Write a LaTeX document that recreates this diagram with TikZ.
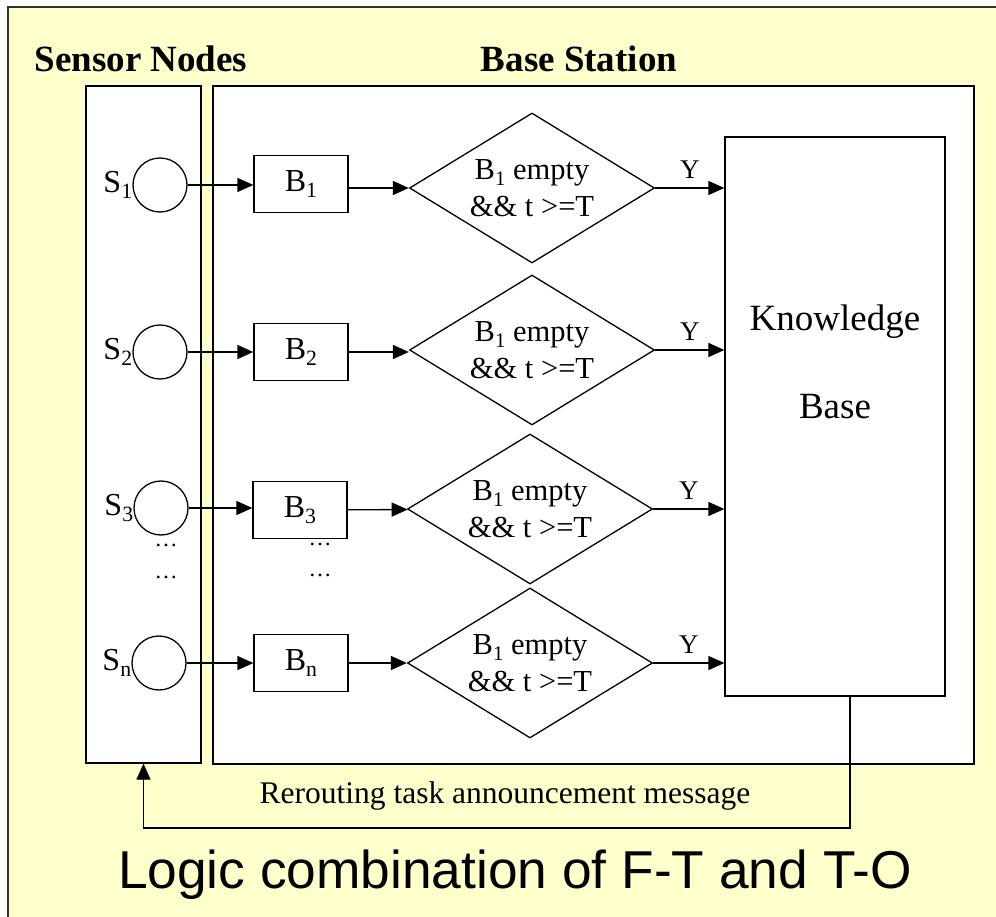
\documentclass[tikz,border=0pt]{standalone}
\usepackage{fontspec}
\setmainfont{Liberation Serif}
\newfontfamily\arialfont{Liberation Sans}
\usepackage{tikz}
\usetikzlibrary{positioning,arrows.meta,shapes.geometric,calc}
\definecolor{paleyellow}{RGB}{255,255,204}
\definecolor{framegray}{RGB}{50,50,50}
\newcommand{\lowidx}[1]{\raisebox{-0.2em}{\scalebox{0.68}{#1}}}
\tikzset{
  panel/.style={draw=black, line width=1.3pt, fill=white, inner sep=0pt},
  sensor/.style={circle, draw=black, line width=1.3pt, fill=white, minimum size=54pt, inner sep=0pt},
  slabel/.style={inner sep=0pt, font=\fontsize{32}{36}\selectfont},
  buffer/.style={draw=black, line width=1.3pt, fill=white, minimum width=94pt, minimum height=57pt, inner sep=0pt, font=\fontsize{32}{36}\selectfont},
  test/.style={diamond, draw=black, line width=1.3pt, fill=white, minimum width=245pt, minimum height=150pt, inner sep=0pt, aspect=1.63, align=center, font=\fontsize{30.5}{37}\selectfont},
  kbox/.style={draw=black, line width=1.3pt, fill=white, minimum width=220pt, minimum height=559pt, inner sep=0pt},
  title/.style={anchor=base, inner sep=0pt, font=\fontsize{37}{44}\selectfont\bfseries},
  dotlabel/.style={inner sep=0pt, font=\fontsize{23}{26}\selectfont},
  ylabel/.style={above, inner sep=5pt, yshift=4pt, font=\fontsize{27}{30}\selectfont},
  arr/.style={-{Triangle[length=16pt,width=14pt]}, line width=1.3pt, draw=black},
}

\begin{document}
\begin{tikzpicture}[x=1pt,y=-1pt]
    \clip (0,0) rectangle (996,917);
    \fill[paleyellow, draw=framegray, line width=1.5pt] (8,7) rectangle (1010,930);

    % the two panels
    \node[panel, minimum width=115pt, minimum height=677pt] (sensor) at (143.5,424.5) {};
    \node[panel, minimum width=761pt, minimum height=678pt] (base) at (593.5,425) {};
    \node[title] (tsensor) at (141,72) {Sensor Nodes};
    \node[title] (tbase) at (579,72) {Base Station};

    \node[kbox] (kb) at (835,416.5) {};
    \node[inner sep=0pt, align=center, font=\fontsize{37}{88}\selectfont] (kbl) at (835,362) {Knowledge\\Base};

    % row 1
    \node[sensor] (s1) at (160,185) {};
    \node[slabel, left=0pt of s1] (s1l) {S\lowidx{1}};
    \node[buffer] (b1) at (301,184) {B\lowidx{1}};
    \node[test] (d1) at (532,188) {B\lowidx{1} empty\\\&\& t >=T};
    \draw[arr] (s1) -- (b1.west |- s1);
    \draw[arr] (b1.east |- d1) -- (d1.west);
    \draw[arr] (d1.east) -- node[ylabel] (y1) {Y} (kb.west |- d1.east);

    % row 2
    \node[sensor] (s2) at (160,352) {};
    \node[slabel, left=0pt of s2] (s2l) {S\lowidx{2}};
    \node[buffer] (b2) at (301,352) {B\lowidx{2}};
    \node[test] (d2) at (532,350) {B\lowidx{1} empty\\\&\& t >=T};
    \draw[arr] (s2) -- (b2);
    \draw[arr] (b2.east) -- (d2.west |- b2.east);
    \draw[arr] (d2.east) -- node[ylabel] (y2) {Y} (kb.west |- d2.east);

    % row 3
    \node[sensor] (s3) at (161,508) {};
    \node[slabel, left=0pt of s3] (s3l) {S\lowidx{3}};
    \node[buffer] (b3) at (300,510) {B\lowidx{3}};
    \node[test] (d3) at (530,509) {B\lowidx{1} empty\\\&\& t >=T};
    \draw[arr] (s3) -- (b3.west |- s3);
    \draw[arr] (b3) -- (d3);
    \draw[arr] (d3.east) -- node[ylabel] (y3) {Y} (kb.west |- d3.east);

    \node[dotlabel] (dots1) at (166,545) {\dots};
    \node[dotlabel] (dots2) at (166,577) {\dots};
    \node[dotlabel] (dots3) at (320,544) {\dots};
    \node[dotlabel] (dots4) at (320,575) {\dots};

    % row n
    \node[sensor] (sn) at (159,663) {};
    \node[slabel, left=0pt of sn] (snl) {S\lowidx{n}};
    \node[buffer] (bn) at (301,663) {B\lowidx{n}};
    \node[test] (dn) at (530,663) {B\lowidx{1} empty\\\&\& t >=T};
    \draw[arr] (sn) -- (bn);
    \draw[arr] (bn) -- (dn);
    \draw[arr] (dn.east) -- node[ylabel] (yn) {Y} (kb.west |- dn.east);

    % feedback to the sensors
    \coordinate (fb) at (850,828);
    \draw[arr] (kb.south -| fb) -- (fb) -| (sensor.south);
    \node[anchor=base, inner sep=0pt, font=\fontsize{31.5}{36}\selectfont] (msg) at (505,803) {Rerouting task announcement message};

    \node[anchor=base, inner sep=0pt, font=\arialfont\fontsize{53.3}{60}\selectfont] (caption) at (515,888) {Logic combination of F-T and T-O};
  \end{tikzpicture}
\end{document}
